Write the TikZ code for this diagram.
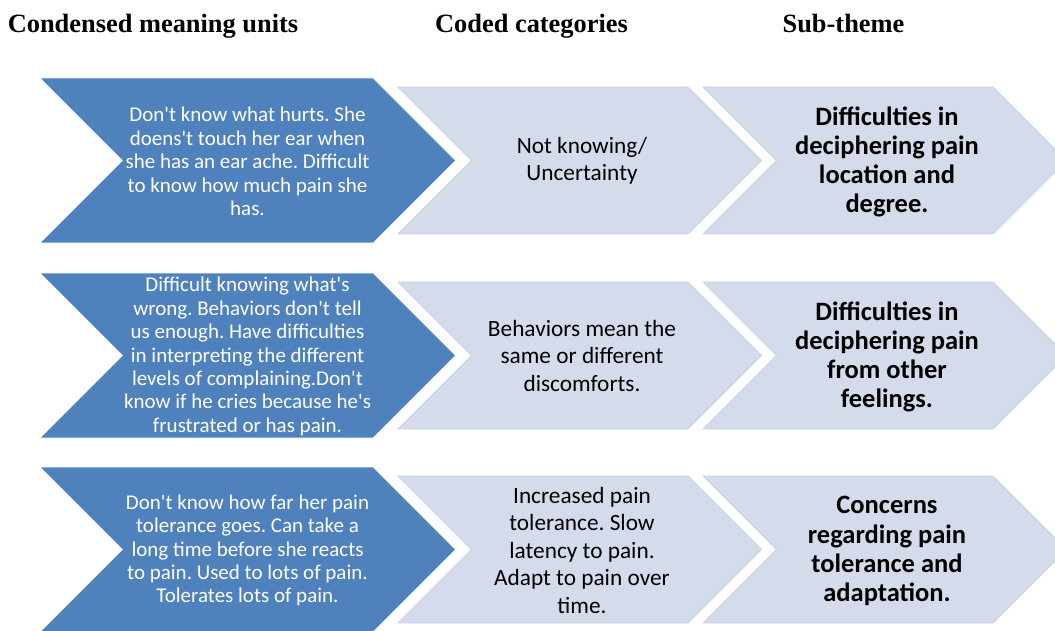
\documentclass[tikz,border=0pt]{standalone}
\usepackage{fontspec}
\newfontfamily\bodyfont{Carlito}
\newfontfamily\headfont{Liberation Serif}
\definecolor{chevdark}{RGB}{79,129,189}
\definecolor{chevlight}{RGB}{212,219,234}
\definecolor{chevedge}{RGB}{201,210,229}

% chevron path: left x, middle y, straight length, half height
\newcommand{\chevron}[4]{(#1,#2-#4) -- ++(#3,0) -- ++(#4,#4) -- ++(-#4,#4) -- ++(-#3,0) -- ++(#4,-#4) -- cycle}

\begin{document}
\frenchspacing
\begin{tikzpicture}[x=1pt, y=-1pt]
		% Define elements
		\tikzstyle{unit} = [fill=chevdark, draw=white, line width=0.6pt]
		\tikzstyle{cat} = [fill=chevlight, draw=chevedge, line width=0.8pt]
		\tikzstyle{unittext} = [text=white, align=center, font=\bodyfont\fontsize{21}{23.4}\selectfont]
		\tikzstyle{cattext} = [align=center, font=\bodyfont\fontsize{23.3}{27.5}\selectfont]
		\tikzstyle{themetext} = [align=center, font=\bodyfont\bfseries\fontsize{26.5}{29.2}\selectfont]
		\tikzstyle{head} = [anchor=base, font=\headfont\bfseries\fontsize{26.4}{30}\selectfont]
		\useasboundingbox (0,0) rectangle (1055,631);

		%% Column heads
		\node[name = hunit, head] at (153,33) {Condensed meaning units};
		\node[name = hcat, head] at (531.5,33) {Coded categories};
		\node[name = htheme, head] at (843.5,33) {Sub-theme};

		%% Chevrons, one row each
		\foreach \y in {160.5, 355.5, 549.5} {
			\path[unit] \chevron{40}{\y}{333}{82.5};
			\path[cat] \chevron{398}{\y}{290}{73.5};
			\path[cat] \chevron{703}{\y}{290}{73.5};
		}

		%% Row 1
		\node[name = unitA, unittext] at (247.5,161.5) {Don't know what hurts. She\\ doens't touch her ear when\\ she has an ear ache. Difficult\\ to know how much pain she\\ has.};
		\node[name = catA, cattext] at (582,161) {Not knowing/\\ Uncertainty};
		\node[name = themeA, themetext] at (887,162) {Difficulties in\\ deciphering pain\\ location and\\ degree.};

		%% Row 2
		\node[name = unitB, unittext] at (247.5,356.5) {Difficult knowing what's\\ wrong. Behaviors don't tell\\ us enough. Have difficulties\\ in interpreting the different\\ levels of complaining.Don't\\ know if he cries because he's\\ frustrated or has pain.};
		\node[name = catB, cattext] at (582,356) {Behaviors mean the\\ same or different\\ discomforts.};
		\node[name = themeB, themetext] at (887,357) {Difficulties in\\ deciphering pain\\ from other\\ feelings.};

		%% Row 3
		\node[name = unitC, unittext] at (247.5,550.5) {Don't know how far her pain\\ tolerance goes. Can take a\\ long time before she reacts\\ to pain. Used to lots of pain.\\ Tolerates lots of pain.};
		\node[name = catC, cattext] at (582,550) {Increased pain\\ tolerance. Slow\\ latency to pain.\\ Adapt to pain over\\ time.};
		\node[name = themeC, themetext] at (887,551) {Concerns\\ regarding pain\\ tolerance and\\ adaptation.};
	\end{tikzpicture}
\end{document}
